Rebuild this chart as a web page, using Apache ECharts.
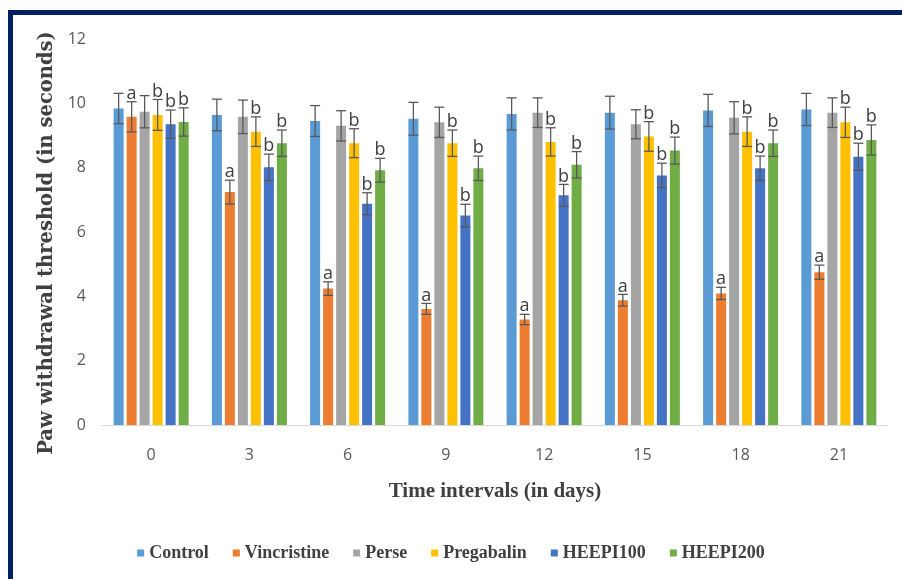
<!DOCTYPE html>
<html>
<head>
<meta charset="utf-8">
<script src="https://cdn.jsdelivr.net/npm/echarts@6/dist/echarts.min.js"></script>
<style>
html,body{margin:0;padding:0;background:#fff;}
#chart{width:902px;height:579px;}
</style>
</head>
<body>
<div id="chart"></div>
<script>
const categories = ['0', '3', '6', '9', '12', '15', '18', '21'];
const seriesNames = ['Control', 'Vincristine', 'Perse', 'Pregabalin', 'HEEPI100', 'HEEPI200'];
const colors = ['#5B9BD5', '#ED7D31', '#A5A5A5', '#FFC000', '#4472C4', '#70AD47'];

const control     = [9.84, 9.64, 9.45, 9.52, 9.67, 9.71, 9.78, 9.81];
const vincristine = [9.58, 7.24, 4.24, 3.61, 3.28, 3.88, 4.09, 4.75];
const perse       = [9.74, 9.58, 9.30, 9.41, 9.71, 9.35, 9.55, 9.71];
const pregabalin  = [9.64, 9.12, 8.76, 8.76, 8.80, 8.97, 9.12, 9.41];
const heepi100    = [9.35, 8.01, 6.88, 6.51, 7.14, 7.76, 7.98, 8.34];
const heepi200    = [9.42, 8.76, 7.92, 7.98, 8.09, 8.53, 8.76, 8.86];

const controlErr     = [0.47, 0.49, 0.48, 0.51, 0.50, 0.51, 0.50, 0.50];
const vincristineErr = [0.47, 0.37, 0.21, 0.17, 0.16, 0.18, 0.19, 0.22];
const perseErr       = [0.50, 0.52, 0.47, 0.47, 0.46, 0.45, 0.50, 0.46];
const pregabalinErr  = [0.48, 0.46, 0.45, 0.41, 0.44, 0.46, 0.46, 0.47];
const heepi100Err    = [0.44, 0.41, 0.34, 0.35, 0.34, 0.38, 0.38, 0.42];
const heepi200Err    = [0.44, 0.41, 0.37, 0.38, 0.41, 0.42, 0.41, 0.47];

const sigLetters = ['', 'a', '', 'b', 'b', 'b'];

const yTicks = [0, 2, 4, 6, 8, 10, 12];
const yTitle = 'Paw withdrawal threshold (in seconds)';
const xTitle = 'Time intervals (in days)';

const values = [control, vincristine, perse, pregabalin, heepi100, heepi200];
const errors = [controlErr, vincristineErr, perseErr, pregabalinErr, heepi100Err, heepi200Err];

const BAR_W = 10, GAP = 3;
const groupW = seriesNames.length * BAR_W + (seriesNames.length - 1) * GAP;

const chart = echarts.init(document.getElementById('chart'), null, {renderer: 'canvas'});

const series = [];
seriesNames.forEach((name, i) => {
  series.push({
    name: name,
    type: 'bar',
    data: values[i],
    barWidth: BAR_W,
    barGap: (GAP / BAR_W * 100) + '%',
    itemStyle: {color: colors[i]},
    z: 2
  });
});
seriesNames.forEach((name, i) => {
  const offset = -groupW / 2 + BAR_W / 2 + i * (BAR_W + GAP);
  series.push({
    name: name + '_err',
    type: 'custom',
    data: values[i].map((v, k) => [k, v, errors[i][k]]),
    z: 5,
    silent: true,
    legendHoverLink: false,
    renderItem: function (params, api) {
      const k = api.value(0), v = api.value(1), e = api.value(2);
      const top = api.coord([k, v + e]);
      const bot = api.coord([k, v - e]);
      const x = top[0] + offset;
      const half = 5;
      const st = {stroke: '#595959', lineWidth: 1.3};
      const children = [
        {type: 'line', shape: {x1: x, y1: top[1], x2: x, y2: bot[1]}, style: st},
        {type: 'line', shape: {x1: x - half, y1: top[1], x2: x + half, y2: top[1]}, style: st},
        {type: 'line', shape: {x1: x - half, y1: bot[1], x2: x + half, y2: bot[1]}, style: st}
      ];
      if (sigLetters[i]) {
        children.push({
          type: 'text',
          style: {
            text: sigLetters[i], x: x, y: top[1] + 1,
            align: 'center', verticalAlign: 'bottom',
            fill: '#404040', font: '18px "Open Sans", "Noto Sans", sans-serif'
          }
        });
      }
      return {type: 'group', children: children};
    }
  });
});

const option = {
  backgroundColor: '#fff',
  animation: false,
  grid: {left: 102, right: 14, top: 39, bottom: 154, containLabel: false},
  legend: {
    data: seriesNames,
    bottom: 12,
    left: 'center',
    itemWidth: 7,
    itemHeight: 7,
    itemGap: 24,
    icon: 'rect',
    textStyle: {
      fontFamily: '"Liberation Serif", "DejaVu Serif", serif',
      fontWeight: 'bold', fontSize: 18, color: '#404040'
    }
  },
  xAxis: {
    type: 'category',
    data: categories,
    name: xTitle,
    nameLocation: 'middle',
    nameGap: 56,
    nameTextStyle: {
      fontFamily: '"Liberation Serif", "DejaVu Serif", serif',
      fontWeight: 'bold', fontSize: 21, color: '#404040'
    },
    axisLine: {lineStyle: {color: '#D9D9D9', width: 1}},
    axisTick: {show: false},
    axisLabel: {
      margin: 22, color: '#595959', fontSize: 16,
      fontFamily: '"Liberation Sans Narrow", "Open Sans", sans-serif'
    }
  },
  yAxis: {
    type: 'value',
    min: 0, max: 12, interval: 2,
    axisLine: {show: false},
    axisTick: {show: false},
    splitLine: {show: false},
    axisLabel: {
      margin: 16, color: '#595959', fontSize: 16,
      fontFamily: '"Liberation Sans Narrow", "Open Sans", sans-serif',
      formatter: function (v) { return yTicks.indexOf(v) >= 0 ? String(v) : ''; }
    }
  },
  graphic: [
    {type: 'rect', left: 8, top: 10, shape: {width: 894, height: 5}, style: {fill: '#002060'}, z: 100},
    {type: 'rect', left: 8, top: 10, shape: {width: 5, height: 569}, style: {fill: '#002060'}, z: 100},
    {
      type: 'text', x: 47, y: 243, rotation: Math.PI / 2,
      style: {
        text: yTitle, align: 'center', verticalAlign: 'middle',
        fill: '#404040', font: 'bold 19.5px "DejaVu Serif", "Liberation Serif", serif'
      }, z: 50
    }
  ],
  series: series
};
chart.setOption(option);
</script>
</body>
</html>
